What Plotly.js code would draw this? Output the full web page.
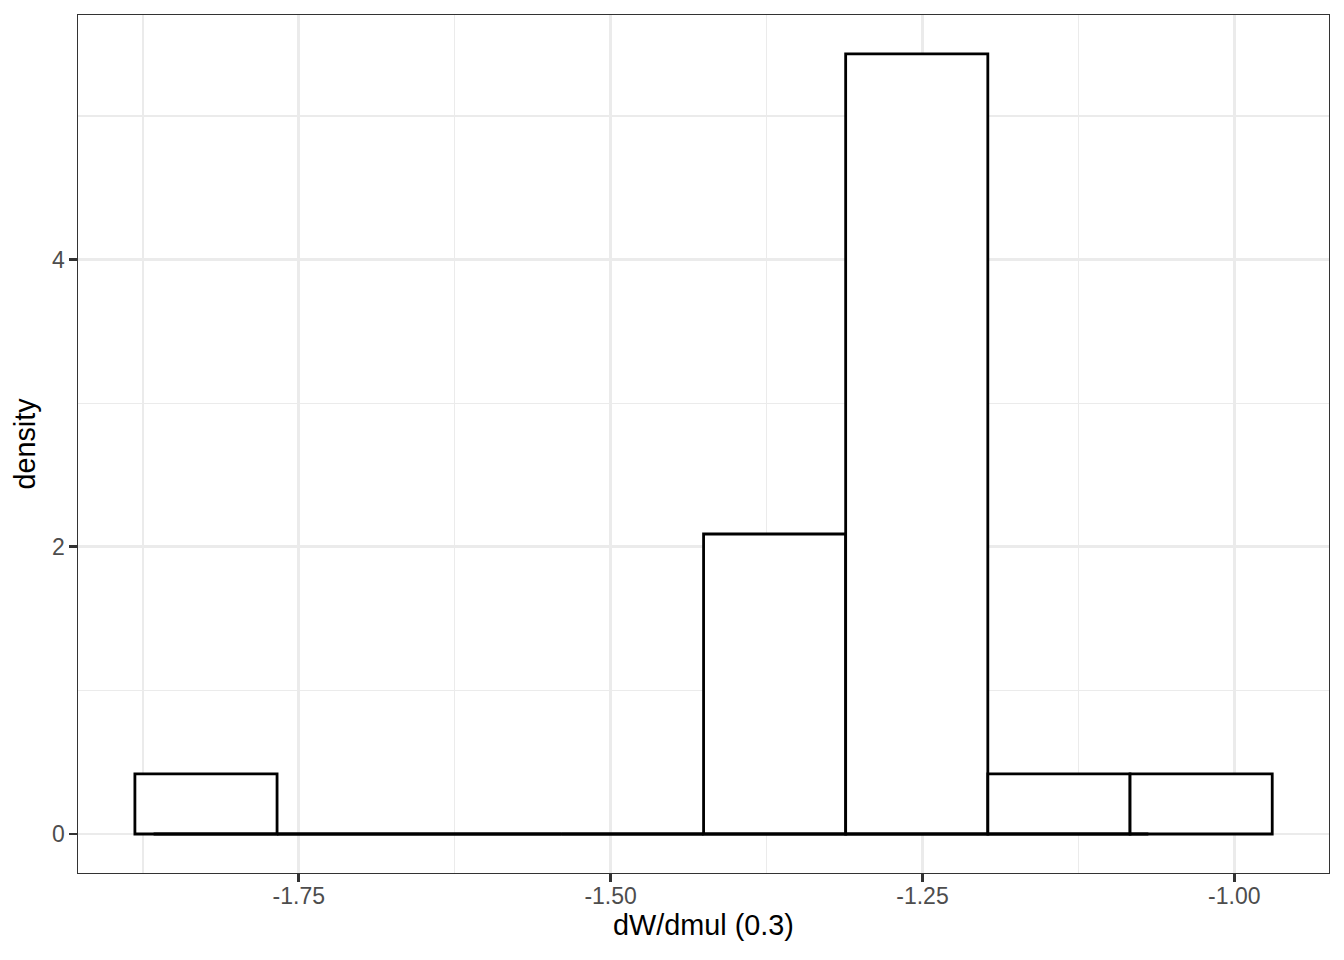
<!DOCTYPE html>
<html>
<head>
<meta charset="utf-8">
<script src="https://cdn.plot.ly/plotly-3.0.1.min.js"></script>
<style>html,body{margin:0;padding:0;background:#fff;}#chart{width:1344px;height:960px;}</style>
</head>
<body>
<div id="chart"></div>
<script>
// Histogram bins (density scale)
const binCenters = [-1.8244, -1.7104, -1.5965, -1.4825, -1.3685, -1.2546, -1.1406, -1.0266];
const binWidth = 0.11397;
const densities = [0.418, 0, 0, 0, 2.089, 5.432, 0.418, 0.418];
// Zero-height layer drawn along the baseline
const zeroLayerX = [-1.8664, -1.0689];
const zeroLayerY = [0, 0];
// Axis ticks
const xTickVals = [-1.75, -1.50, -1.25, -1.00];
const xTickText = ["-1.75", "-1.50", "-1.25", "-1.00"];
const yTickVals = [0, 2, 4];
const yTickText = ["0", "2", "4"];

const traces = [
  {
    type: 'scatter',
    mode: 'lines',
    x: zeroLayerX,
    y: zeroLayerY,
    line: {color: '#000000', width: 2.8},
    hoverinfo: 'skip',
    showlegend: false
  },
  {
    type: 'bar',
    x: binCenters,
    y: densities,
    width: binCenters.map(() => binWidth),
    marker: {color: '#FFFFFF', line: {color: '#000000', width: 2.8}},
    hoverinfo: 'x+y',
    showlegend: false
  }
];

const fam = 'Liberation Sans, Arial, sans-serif';
const layout = {
  width: 1344,
  height: 960,
  paper_bgcolor: '#FFFFFF',
  plot_bgcolor: '#FFFFFF',
  margin: {l: 78, r: 15, t: 15, b: 87},
  bargap: 0,
  barmode: 'overlay',
  showlegend: false,
  font: {family: fam, color: '#000000'},
  xaxis: {
    range: [-1.9270, -0.9241],
    tickvals: xTickVals,
    ticktext: xTickText,
    ticks: 'outside',
    ticklen: 7.2,
    tickwidth: 2.6,
    tickcolor: '#333333',
    tickfont: {family: fam, size: 23, color: '#4D4D4D'},
    ticklabelstandoff: -5,
    showgrid: true,
    gridcolor: '#EBEBEB',
    gridwidth: 2.8,
    minor: {dtick: 0.125, tick0: -1.875, showgrid: true, gridcolor: '#EBEBEB', gridwidth: 1.4, ticks: ''},
    zeroline: false,
    showline: true,
    linecolor: '#333333',
    linewidth: 1.4,
    mirror: true,
    automargin: false,
    title: {text: 'dW/dmul (0.3)', font: {family: fam, size: 28.8, color: '#000000'}, standoff: 6}
  },
  yaxis: {
    range: [-0.2716, 5.7034],
    tickvals: yTickVals,
    ticktext: yTickText,
    ticks: 'outside',
    ticklen: 7.2,
    tickwidth: 2.6,
    tickcolor: '#333333',
    tickfont: {family: fam, size: 23, color: '#4D4D4D'},
    showgrid: true,
    gridcolor: '#EBEBEB',
    gridwidth: 2.8,
    minor: {tickvals: [1, 3, 5], showgrid: true, gridcolor: '#EBEBEB', gridwidth: 1.4, ticks: ''},
    zeroline: false,
    showline: true,
    linecolor: '#333333',
    linewidth: 1.4,
    mirror: true,
    automargin: false,
    title: {text: 'density', font: {family: fam, size: 28.8, color: '#000000'}, standoff: 8}
  }
};

Plotly.newPlot('chart', traces, layout, {displayModeBar: false, staticPlot: true});
</script>
</body>
</html>
